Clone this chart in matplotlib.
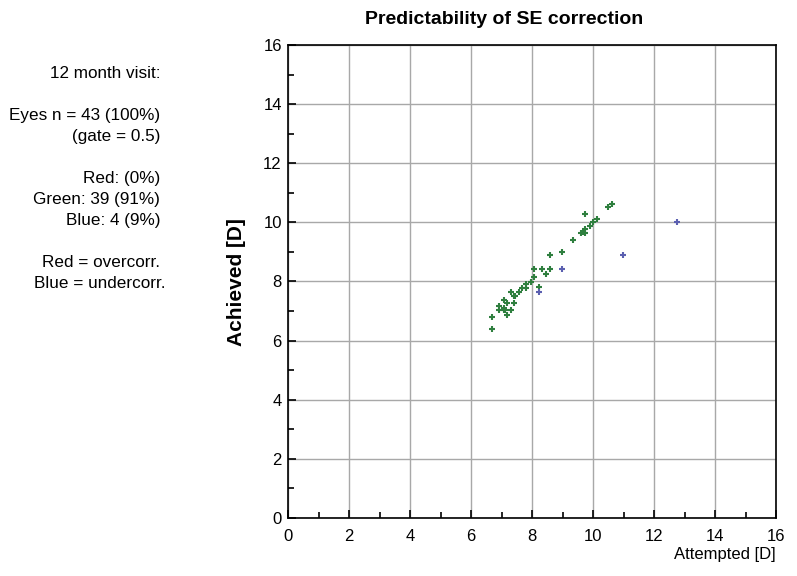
import matplotlib
matplotlib.use("Agg")
import matplotlib.pyplot as plt
from matplotlib.ticker import MultipleLocator

plt.rcParams['font.family'] = ['Liberation Sans', 'DejaVu Sans']

green_x = [6.68, 6.68, 6.91, 6.91, 7.08, 7.08, 7.08, 7.18, 7.18, 7.31, 7.32, 7.41, 7.42,
           7.58, 7.68, 7.81, 7.81, 7.98, 8.08, 8.08, 8.32, 8.47, 8.58, 8.58,
           8.98, 9.33, 9.61, 9.74, 9.74, 9.74, 9.90, 10.0, 10.12, 10.48, 10.63,
           8.22, 7.12, 7.45, 9.68]
green_y = [6.39, 6.79, 7.16, 7.02, 7.38, 7.10, 7.02, 7.27, 6.88, 7.63, 7.03, 7.52, 7.27,
           7.63, 7.78, 7.78, 7.91, 7.98, 8.15, 8.42, 8.42, 8.24, 8.42, 8.90,
           8.99, 9.42, 9.63, 9.63, 9.78, 10.27, 9.88, 10.02, 10.11, 10.53, 10.62,
           7.80, 7.05, 7.50, 9.66]
blue_x = [8.22, 8.99, 10.98, 12.74]
blue_y = [7.63, 8.42, 8.88, 10.02]

info_lines = ["12 month visit:", "", "Eyes n = 43 (100%)", "(gate = 0.5)", "",
              "Red: (0%)", "Green: 39 (91%)", "Blue: 4 (9%)", "",
              "Red = overcorr.", "Blue = undercorr."]

fig = plt.figure(figsize=(7.97, 5.76), dpi=100)
ax = fig.add_axes([0.3614, 0.1007, 0.6123, 0.8212])
ax.set_xlim(0, 16)
ax.set_ylim(0, 16)
ax.xaxis.set_major_locator(MultipleLocator(2))
ax.yaxis.set_major_locator(MultipleLocator(2))
ax.xaxis.set_minor_locator(MultipleLocator(1))
ax.yaxis.set_minor_locator(MultipleLocator(1))
ax.grid(True, which="major", color="#a8a8a8", linewidth=1.0)
ax.set_axisbelow(True)
ax.tick_params(which="major", direction="in", length=6, width=1.2, labelsize=12,
               top=False, right=False)
ax.tick_params(which="minor", direction="in", length=4, width=1.2, top=False, right=False)
ax.tick_params(axis="x", which="major", pad=8)
ax.tick_params(axis="y", which="major", pad=4.5)
for s in ax.spines.values():
    s.set_linewidth(1.2)

ax.plot(green_x, green_y, linestyle="none", marker="+", color="#2f7f3f",
        markersize=4, markeredgewidth=1.5)
ax.plot(blue_x, blue_y, linestyle="none", marker="+", color="#5b5fb0",
        markersize=4, markeredgewidth=1.5)

fig.text(504 / 797, 1 - 19 / 576, "Predictability of SE correction", ha="center",
         va="center", fontsize=14, fontweight="bold")
fig.text(237 / 797, 1 - 282 / 576, "Achieved [D]", ha="center", va="center",
         rotation=90, fontsize=15, fontweight="bold")
fig.text(776 / 797, 1 - 554 / 576, "Attempted [D]", ha="right", va="center", fontsize=12)

y = 73
for ln in info_lines:
    if ln:
        xr = 165 if ln.startswith("Blue =") else 160
        fig.text(xr / 797, 1 - y / 576, ln, ha="right", va="center", fontsize=12.3)
    y += 21.1

fig.savefig("out.png", dpi=100)
